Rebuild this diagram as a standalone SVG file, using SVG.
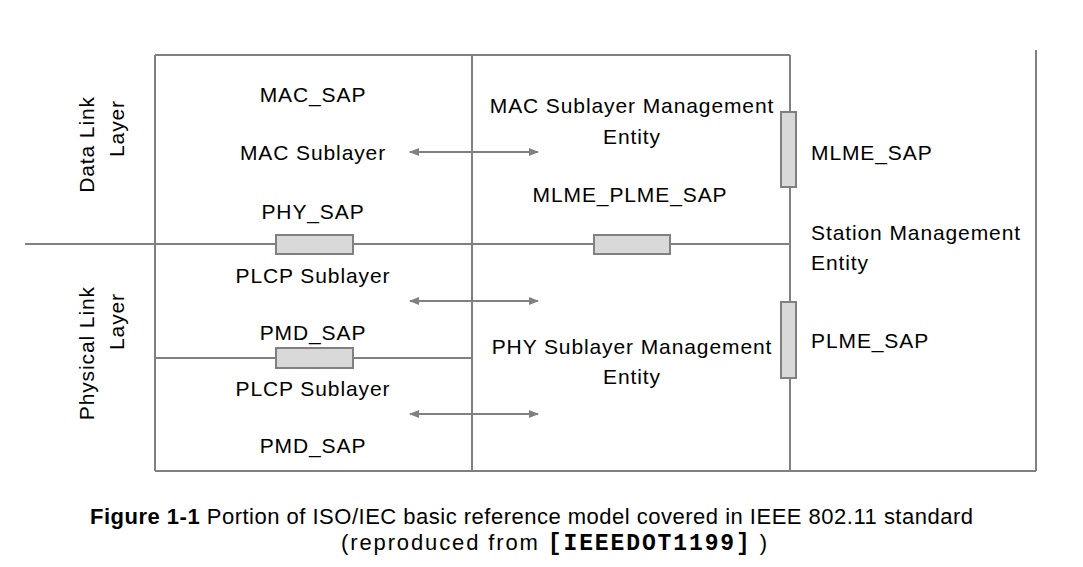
<svg xmlns="http://www.w3.org/2000/svg" width="1083" height="567" viewBox="0 0 1083 567">
<style>
.ln{stroke:#808080;stroke-width:2;fill:none}
.sap{fill:#d9d9d9;stroke:#808080;stroke-width:2}
.t{font-family:"Liberation Sans",Arial,sans-serif;font-size:21px;fill:#000;letter-spacing:0.9px}
.c{text-anchor:middle}
.cap{font-family:"Liberation Sans",Arial,sans-serif;font-size:22px;fill:#000}
.mono{font-family:"Liberation Mono","Courier New",monospace;font-weight:bold;font-size:23px}
.arr{stroke:#808080;stroke-width:2;fill:none;marker-start:url(#ah);marker-end:url(#ah)}
</style>
<defs>
<marker id="ah" viewBox="0 0 10 10" refX="9" refY="5" markerWidth="14" markerHeight="10" markerUnits="userSpaceOnUse" orient="auto-start-reverse">
<path d="M0,1 L10,5 L0,9 Z" fill="#808080"/>
</marker>
</defs>
<g id="frame">
<line class="ln" x1="155" y1="55" x2="790" y2="55"/>
<line class="ln" x1="155" y1="55" x2="155" y2="471"/>
<line class="ln" x1="472" y1="55" x2="472" y2="471"/>
<line class="ln" x1="790" y1="55" x2="790" y2="471"/>
<line class="ln" x1="1036" y1="50" x2="1036" y2="471"/>
<line class="ln" x1="155" y1="471" x2="1036" y2="471"/>
<line class="ln" x1="25" y1="244" x2="790" y2="244"/>
<line class="ln" x1="155" y1="358" x2="472" y2="358"/>
</g>
<g id="layer-labels">
<text class="t" transform="translate(94,96) rotate(-90)" text-anchor="end">Data Link</text>
<text class="t" transform="translate(124,100) rotate(-90)" text-anchor="end">Layer</text>
<text class="t" transform="translate(94,286) rotate(-90)" text-anchor="end">Physical Link</text>
<text class="t" transform="translate(124,293) rotate(-90)" text-anchor="end">Layer</text>
</g>
<g id="mac-sublayer">
<text class="t c" x="313" y="102">MAC_SAP</text>
<text class="t c" x="313" y="160">MAC Sublayer</text>
<text class="t c" x="313" y="219">PHY_SAP</text>
</g>
<g id="phy-sap"><rect class="sap" x="276" y="235" width="77" height="19"/></g>
<g id="plcp-sublayer">
<text class="t c" x="313" y="283">PLCP Sublayer</text>
<text class="t c" x="313" y="340">PMD_SAP</text>
</g>
<g id="pmd-sap"><rect class="sap" x="276" y="348" width="77" height="20"/></g>
<g id="pmd-sublayer">
<text class="t c" x="313" y="396">PLCP Sublayer</text>
<text class="t c" x="313" y="453">PMD_SAP</text>
</g>
<g id="mlme">
<text class="t c" x="632" y="113">MAC Sublayer Management</text>
<text class="t c" x="632" y="144">Entity</text>
<text class="t c" x="630" y="202">MLME_PLME_SAP</text>
</g>
<g id="mlme-plme-sap"><rect class="sap" x="594" y="235" width="76" height="19"/></g>
<g id="plme">
<text class="t c" x="632" y="354">PHY Sublayer Management</text>
<text class="t c" x="632" y="384">Entity</text>
</g>
<g id="mlme-sap"><rect class="sap" x="781" y="112" width="15" height="75"/></g>
<g id="plme-sap"><rect class="sap" x="781" y="302" width="15" height="76"/></g>
<g id="sme">
<text class="t" x="811" y="160">MLME_SAP</text>
<text class="t" x="811" y="240">Station Management</text>
<text class="t" x="811" y="270">Entity</text>
<text class="t" x="811" y="348">PLME_SAP</text>
</g>
<g id="connectors">
<line class="arr" x1="410" y1="152" x2="538" y2="152"/>
<line class="arr" x1="410" y1="301" x2="538" y2="301"/>
<line class="arr" x1="410" y1="414" x2="538" y2="414"/>
</g>
<g id="caption">
<text class="cap" x="90" y="524" textLength="883" lengthAdjust="spacing"><tspan font-weight="bold">Figure 1-1</tspan> Portion of ISO/IEC basic reference model covered in IEEE 802.11 standard</text>
<text class="cap" x="341" y="550" textLength="426" lengthAdjust="spacing">(reproduced from  <tspan class="mono">[IEEEDOT1199]</tspan> )</text>
</g>
</svg>
